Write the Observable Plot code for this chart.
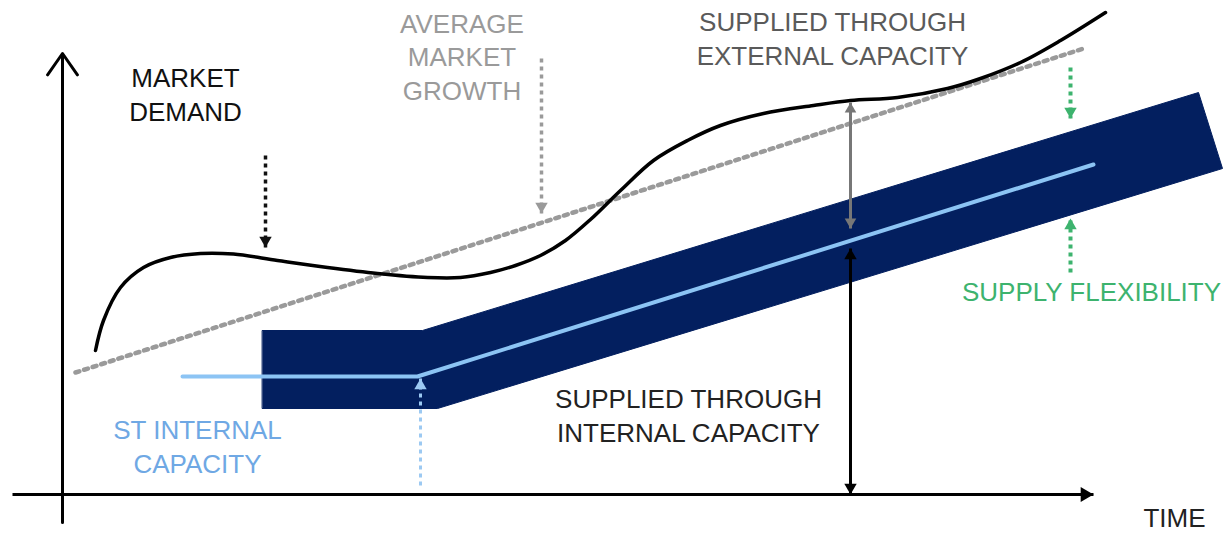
<!DOCTYPE html>
<html>
<head>
<meta charset="utf-8">
<script src="https://cdn.jsdelivr.net/npm/d3@7"></script>
<script src="https://cdn.jsdelivr.net/npm/@observablehq/plot@0.6"></script>
<style>
  html, body { margin: 0; padding: 0; background: #fff; }
  #chart { width: 1227px; height: 534px; }
</style>
</head>
<body>
<div id="chart"></div>
<script>
// Market demand over time (time units, volume units)
const demandTime   = [3.3, 4.1, 5.8, 8.1, 10.8, 13.8, 17.1, 21.5, 26.5, 31.5, 36.5, 39.8, 42.8, 45.3, 47.8, 50.3, 52.8, 55.8, 59.1, 62.5, 65.8, 70.1, 75.1, 78.8, 83.5, 88.5, 91.8, 95.8, 99.8, 104.3];
const demandVolume = [36, 43.5, 51.75, 56.75, 59.25, 60.25, 60.1, 58.5, 56.75, 55.25, 54.25, 54.25, 55.5, 57.25, 59.75, 63.5, 68.75, 76, 83.5, 88.5, 92.25, 95.25, 97.25, 98.5, 99.25, 101.5, 104, 108, 113.5, 120.5];

// Average market growth (straight trend)
const trendTime   = [1.3, 102.1];
const trendVolume = [30.5, 111.5];

// Short-term internal capacity (flat, then growing)
const capacityTime   = [12, 35.5, 103.1];
const capacityVolume = [29.5, 29.5, 82.5];

// Supply flexibility band around the internal capacity (outline, clockwise)
const bandTime   = [20, 36, 113.6, 116, 37.5, 20];
const bandVolume = [41, 41, 100.5, 81.5, 21.5, 21.5];

// Callout arrows: time position, tail volume, head volume
const calloutTime = [20.3, 47.9, 35.8, 100.8, 100.8];
const calloutFrom = [84.75, 109, 2.25, 106.75, 55.5];
const calloutTo   = [61.75, 70.25, 29, 94, 69];

// Gaps measured at one point in time
const gapTime = 78.8;
const externalGap = [98, 66.5];   // demand down to capacity
const internalGap = [61.5, 0];    // capacity down to zero

// Axis extents
const timeAxis   = [-5, 103.1];
const volumeAxis = [-7, 110.25];

// Labels and their anchor points (last baseline, centred)
const labelText = [
  "MARKET\nDEMAND",
  "AVERAGE\nMARKET\nGROWTH",
  "SUPPLIED THROUGH\nEXTERNAL CAPACITY",
  "SUPPLIED THROUGH\nINTERNAL CAPACITY",
  "ST INTERNAL\nCAPACITY",
  "SUPPLY FLEXIBILITY",
  "TIME"
];
const labelTime   = [12.3, 39.95, 77, 62.6, 13.5, 102.9, 111.2];
const labelVolume = [93.5, 98.75, 107.5, 13.25, 5.5, 48.5, -8.1];

// ---- styling ----
const NAVY = "#031f5f";
const LIGHT_BLUE = "#8cc4f4";
const GREEN = "#3db36e";
const calloutColor = ["#111111", "#9a9a9a", "#9cc9f2", GREEN, GREEN];
const calloutWidth = [3.5, 3.5, 3, 4, 4];
const labelColor = ["#111111", "#9a9a9a", "#5a5a5a", "#222222", "#6fa8e4", GREEN, "#222222"];

const zip = (xs, ys) => xs.map((x, i) => ({x, y: ys[i]}));

// filled triangular arrowhead whose tip sits on (t, v)
function head(t, v, dir, color, r = 5) {
  const off = 2 * Math.sqrt(r * r * Math.PI / (3 * Math.sqrt(3)));
  const rotate = dir === "down" ? 180 : dir === "up" ? 0 : 90;
  const dx = dir === "right" ? -off : 0;
  const dy = dir === "down" ? -off : dir === "up" ? off : 0;
  return Plot.dot([{x: t, y: v}], {
    x: "x", y: "y", symbol: "triangle", r, rotate, dx, dy,
    fill: color, stroke: "none"
  });
}

const marks = [];

// capacity band
marks.push(Plot.line(zip(bandTime, bandVolume), {
  x: "x", y: "y", curve: "linear-closed", fill: NAVY, stroke: NAVY, strokeWidth: 1
}));

// internal capacity line
marks.push(Plot.line(zip(capacityTime, capacityVolume), {
  x: "x", y: "y", stroke: LIGHT_BLUE, strokeWidth: 4
}));

// average growth trend
marks.push(Plot.line(zip(trendTime, trendVolume), {
  x: "x", y: "y", stroke: "#9a9a9a", strokeWidth: 4.5, strokeDasharray: "4 5"
}));

// market demand
marks.push(Plot.line(zip(demandTime, demandVolume), {
  x: "x", y: "y", curve: "catmull-rom", stroke: "#000", strokeWidth: 3.5
}));

// axes
marks.push(Plot.link([{x1: timeAxis[0], x2: timeAxis[1], y: 0}], {
  x1: "x1", x2: "x2", y1: "y", y2: "y", stroke: "#000", strokeWidth: 3
}));
marks.push(head(timeAxis[1], 0, "right", "#000", 5.5));
marks.push(Plot.arrow([{x: 0, y1: volumeAxis[0], y2: volumeAxis[1]}], {
  x1: "x", x2: "x", y1: "y1", y2: "y2", stroke: "#000", strokeWidth: 3,
  headLength: 13, headAngle: 70
}));

// callout arrows
calloutTime.forEach((t, i) => {
  const from = calloutFrom[i], to = calloutTo[i];
  const dir = to < from ? "down" : "up";
  marks.push(Plot.link([{x: t, y1: from, y2: to}], {
    x1: "x", x2: "x", y1: "y1", y2: "y2",
    stroke: calloutColor[i], strokeWidth: calloutWidth[i], strokeDasharray: "4 4"
  }));
  marks.push(head(t, to, dir, calloutColor[i], 4.6));
});

// external supply gap (double-headed)
marks.push(Plot.link([{x: gapTime, y1: externalGap[0], y2: externalGap[1]}], {
  x1: "x", x2: "x", y1: "y1", y2: "y2", stroke: "#777", strokeWidth: 3
}));
marks.push(head(gapTime, externalGap[0], "up", "#777", 4.3));
marks.push(head(gapTime, externalGap[1], "down", "#777", 4.3));

// internal supply (double-headed)
marks.push(Plot.link([{x: gapTime, y1: internalGap[0], y2: internalGap[1]}], {
  x1: "x", x2: "x", y1: "y1", y2: "y2", stroke: "#000", strokeWidth: 3
}));
marks.push(head(gapTime, internalGap[0], "up", "#000", 4.6));
marks.push(head(gapTime, internalGap[1], "down", "#000", 4.6));

// labels
labelText.forEach((txt, i) => {
  marks.push(Plot.text([{x: labelTime[i], y: labelVolume[i], t: txt}], {
    x: "x", y: "y", text: "t", fill: labelColor[i],
    fontSize: 26, lineHeight: 1.27, lineAnchor: "bottom", textAnchor: "middle"
  }));
});

const chart = Plot.plot({
  width: 1227,
  height: 534,
  margin: 0,
  x: {domain: [-6.2, 116.5], axis: null},
  y: {domain: [-10, 123.5], axis: null},
  style: {fontFamily: "'Liberation Sans', Arial, sans-serif", background: "#fff", overflow: "visible"},
  marks
});
document.getElementById("chart").appendChild(chart);
</script>
</body>
</html>
